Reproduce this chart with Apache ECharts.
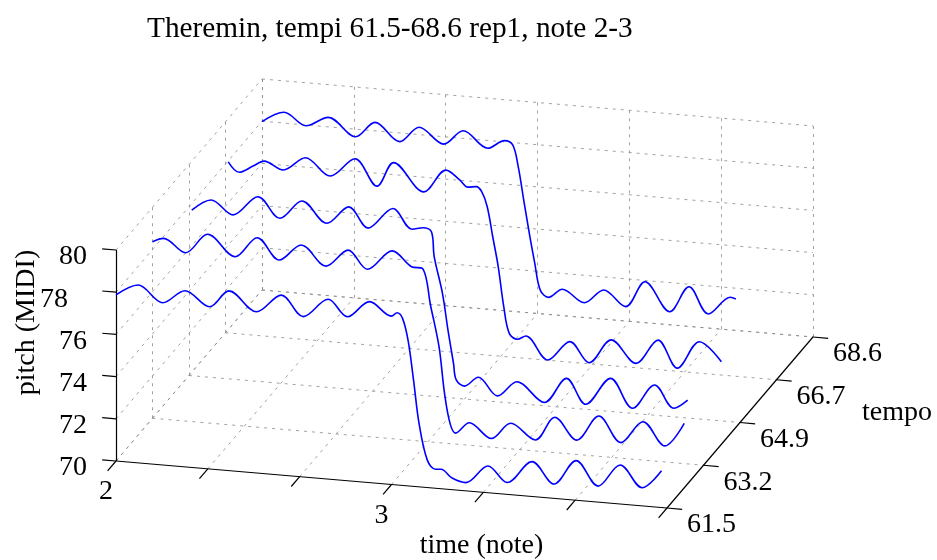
<!DOCTYPE html>
<html><head><meta charset="utf-8">
<script src="https://cdn.jsdelivr.net/npm/echarts@6/dist/echarts.min.js"></script>
<style>html,body{margin:0;padding:0;background:#fff}#c{width:937px;height:560px}</style>
</head><body><div id="c"></div>
<script>
// ---------- data ----------
const titleText = 'Theremin, tempi 61.5-68.6 rep1, note 2-3';
const timeLabel = 'time (note)';
const tempoLabel = 'tempo';
const pitchLabel = 'pitch (MIDI)';

const tempoLabels = ['61.5', '63.2', '64.9', '66.7', '68.6'];
const timeTicks = [2, 2.3333, 2.6667, 3, 3.3333, 3.6667, 4];
const timeTickLabels = ['2', '', '', '3', '', '', ''];
const pitchTicks = [70, 72, 74, 76, 78, 80];
const timeRange = [2, 4];
const pitchRange = [70, 80];

const time0 = [2.00, 2.08, 2.17, 2.25, 2.34, 2.41, 2.51, 2.60, 2.68, 2.77, 2.84, 2.92, 3.00, 3.02, 3.04, 3.06, 3.08, 3.10, 3.13, 3.16, 3.18, 3.22, 3.27, 3.35, 3.42, 3.51, 3.59, 3.67, 3.75, 3.83, 3.91, 3.98];
const pitch0 = [77.87, 78.43, 77.69, 78.35, 77.69, 78.52, 77.64, 78.53, 77.60, 78.52, 77.77, 78.58, 77.98, 78.16, 77.92, 76.91, 75.04, 73.01, 71.30, 70.90, 70.92, 70.55, 70.39, 71.27, 70.56, 71.65, 70.68, 71.88, 70.76, 71.85, 70.86, 71.74];

const time1 = [2.00, 2.04, 2.12, 2.20, 2.30, 2.38, 2.46, 2.54, 2.63, 2.71, 2.78, 2.87, 2.94, 2.98, 3.01, 3.04, 3.06, 3.08, 3.10, 3.15, 3.23, 3.30, 3.39, 3.46, 3.54, 3.62, 3.70, 3.78, 3.86, 3.93];
const pitch1 = [78.37, 78.57, 77.98, 78.94, 77.99, 78.98, 78.01, 78.81, 77.91, 78.76, 77.93, 78.90, 78.23, 78.19, 76.42, 74.55, 72.36, 70.96, 70.52, 71.07, 70.41, 71.21, 70.52, 71.67, 70.68, 71.91, 70.74, 71.82, 70.76, 71.91];

const time2 = [2.01, 2.08, 2.16, 2.25, 2.33, 2.41, 2.50, 2.58, 2.65, 2.74, 2.81, 2.85, 2.88, 2.89, 2.92, 2.94, 2.96, 2.97, 3.00, 3.05, 3.12, 3.19, 3.29, 3.37, 3.44, 3.53, 3.61, 3.69, 3.76, 3.81];
const pitch2 = [77.85, 78.41, 77.79, 78.75, 77.82, 78.73, 77.77, 78.64, 77.71, 78.74, 77.83, 77.95, 77.79, 76.63, 74.92, 73.20, 71.65, 70.87, 70.61, 71.09, 70.28, 71.03, 70.16, 71.39, 70.24, 71.57, 70.24, 71.43, 70.41, 70.85];

const time3 = [2.01, 2.05, 2.10, 2.14, 2.21, 2.29, 2.38, 2.47, 2.55, 2.61, 2.72, 2.80, 2.85, 2.88, 2.91, 2.93, 2.95, 2.97, 2.99, 3.01, 3.03, 3.06, 3.09, 3.17, 3.25, 3.32, 3.40, 3.49, 3.57, 3.64, 3.72, 3.80];
const pitch3 = [78.11, 77.66, 78.01, 78.29, 77.95, 78.62, 77.85, 78.77, 77.56, 78.74, 77.48, 78.60, 78.19, 77.88, 77.94, 77.72, 77.03, 75.63, 74.23, 72.36, 71.12, 70.87, 71.06, 70.01, 70.97, 70.05, 71.22, 70.21, 71.40, 70.15, 71.49, 70.63];

const time4 = [2.00, 2.08, 2.16, 2.24, 2.34, 2.41, 2.50, 2.57, 2.66, 2.73, 2.82, 2.88, 2.91, 2.93, 2.95, 2.97, 2.99, 3.01, 3.04, 3.09, 3.17, 3.24, 3.32, 3.39, 3.48, 3.55, 3.62, 3.70, 3.72];
const pitch4 = [77.98, 78.51, 77.96, 78.45, 77.64, 78.40, 77.59, 78.35, 77.65, 78.36, 77.63, 78.06, 77.89, 76.88, 75.32, 73.79, 72.38, 71.12, 70.81, 71.25, 70.70, 71.38, 70.68, 71.94, 70.62, 71.88, 70.67, 71.55, 71.49];

const curves = [[time0, pitch0], [time1, pitch1], [time2, pitch2], [time3, pitch3], [time4, pitch4]];

// ---------- view (orthographic 3-D box projection, pixel space) ----------
const VIEW = { ox: 116, oy: 461, ex: [551, 47], ey: [146, -171], ez: [0, -211] };
const nK = tempoLabels.length - 1;
function proj(t, k, p) {
  const a = (t - timeRange[0]) / (timeRange[1] - timeRange[0]);
  const b = k / nK;
  const c = (p - pitchRange[0]) / (pitchRange[1] - pitchRange[0]);
  return [VIEW.ox + a * VIEW.ex[0] + b * VIEW.ey[0] + c * VIEW.ez[0],
          VIEW.oy + a * VIEW.ex[1] + b * VIEW.ey[1] + c * VIEW.ez[1]];
}
const tMin = timeRange[0], tMax = timeRange[1], pMin = pitchRange[0], pMax = pitchRange[1];
const seg = (a, b) => ({ coords: [proj(a[0], a[1], a[2]), proj(b[0], b[1], b[2])] });

// dashed grid on the three back planes
const gridSegs = [];
timeTicks.forEach(t => {
  if (t !== tMax) gridSegs.push(seg([t, 0, pMin], [t, nK, pMin]));   // floor
  gridSegs.push(seg([t, nK, pMin], [t, nK, pMax]));                   // back wall
});
tempoLabels.forEach((_, k) => {
  if (k !== 0) gridSegs.push(seg([tMin, k, pMin], [tMax, k, pMin])); // floor
  if (k !== 0) gridSegs.push(seg([tMin, k, pMin], [tMin, k, pMax])); // left wall
});
pitchTicks.forEach(p => {
  gridSegs.push(seg([tMin, nK, p], [tMax, nK, p]));                   // back wall
  gridSegs.push(seg([tMin, 0, p], [tMin, nK, p]));                    // left wall
});

// solid axes with ticks
const tickT = 0.05, tickK = 0.23, tickT2 = 0.055;
const axisSegs = [
  seg([tMin, 0, pMin], [tMin, 0, pMax]),
  seg([tMin, 0, pMin], [tMax, 0, pMin]),
  seg([tMax, 0, pMin], [tMax, nK, pMin])
];
pitchTicks.forEach(p => axisSegs.push(seg([tMin - tickT, 0, p], [tMin, 0, p])));
timeTicks.forEach(t => axisSegs.push(seg([t, -tickK, pMin], [t, 0, pMin])));
tempoLabels.forEach((_, k) => axisSegs.push(seg([tMax, k, pMin], [tMax + tickT2, k, pMin])));

// text labels
const FONT = 'Liberation Serif';
const labelItems = [];
function addLabel(pt, text, opts) {
  labelItems.push({ value: pt, label: Object.assign({ show: true, formatter: text, position: 'inside',
    fontFamily: FONT, fontSize: 28, color: '#000', opacity: 1, textBorderWidth: 0,
    verticalAlign: 'middle' }, opts) });
}
pitchTicks.forEach(p => addLabel(proj(tMin, 0, p), String(p),
  { align: 'right', offset: [p === 78 ? -48 : -29, 7] }));
timeTicks.forEach((t, i) => { if (timeTickLabels[i]) addLabel(proj(t, 0, pMin), timeTickLabels[i],
  { align: 'center', offset: [-10, 31] }); });
tempoLabels.forEach((lab, k) => addLabel(proj(tMax, k, pMin), lab, { align: 'left', offset: [20, 17] }));
addLabel(proj(3, 0, pMin), timeLabel, { align: 'center', offset: [90, 61] });
addLabel(proj(tMax, nK / 2, pMin), tempoLabel, { align: 'left', offset: [122, -10] });
addLabel(proj(tMin, 0, (pMin + pMax) / 2), pitchLabel, { align: 'center', rotate: 90, offset: [33, -89] });

const series = [
  { type: 'lines', coordinateSystem: 'cartesian2d', data: gridSegs, silent: true, z: 1,
    lineStyle: { color: '#8a8a8a', width: 0.8, type: [3, 5], opacity: 1 } },
  { type: 'lines', coordinateSystem: 'cartesian2d', data: axisSegs, silent: true, z: 2,
    lineStyle: { color: '#000', width: 1.2, type: 'solid', opacity: 1 } }
];
curves.forEach(([ts, ps], k) => {
  series.push({ type: 'line', data: ts.map((t, i) => proj(t, k, ps[i])), showSymbol: false,
    smooth: 0.35, z: 3, lineStyle: { color: '#0000ff', width: 1.6 } });
});
series.push({ type: 'scatter', data: labelItems, symbolSize: 1, z: 4, silent: true,
  label: { show: true, color: '#000', textBorderWidth: 0 },
  itemStyle: { color: 'rgba(255,255,255,0)' } });

const chart = echarts.init(document.getElementById('c'), null, { renderer: 'canvas' });
chart.setOption({
  animation: false,
  backgroundColor: '#fff',
  title: { text: titleText, left: 142, top: 10,
    textStyle: { fontFamily: FONT, fontSize: 29.3, fontWeight: 'normal', color: '#000' } },
  grid: { left: 0, right: 0, top: 0, bottom: 0 },
  xAxis: { type: 'value', min: 0, max: 937, show: false },
  yAxis: { type: 'value', min: 0, max: 560, inverse: true, show: false },
  series: series
});
</script></body></html>
